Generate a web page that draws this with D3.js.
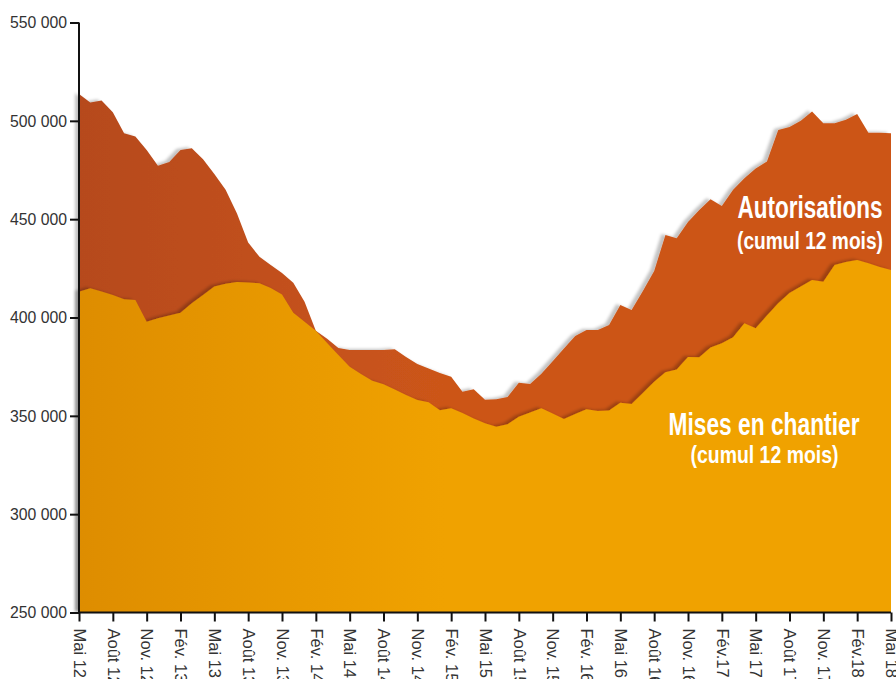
<!DOCTYPE html>
<html><head><meta charset="utf-8">
<script src="https://cdn.jsdelivr.net/npm/d3@7"></script>
<style>
html,body{margin:0;padding:0;background:#fff;}
svg{display:block;}
</style></head>
<body>
<svg id="chart" width="896" height="679"></svg>
<script>
const monthLabels = ["Mai 12","Août 12","Nov. 12","Fév. 13","Mai 13","Août 13","Nov. 13","Fév. 14","Mai 14","Août 14","Nov. 14","Fév. 15","Mai 15","Août 15","Nov. 15","Fév. 16","Mai 16","Août 16","Nov. 16","Fév.17","Mai 17","Août 17","Nov. 17","Fév.18","Mai 18"];
const yTicks = [250000,300000,350000,400000,450000,500000,550000];
// monthly values, May 2012 .. May 2018
const autorisations = [513700,509300,510300,504400,493700,492000,485200,477100,479100,485200,486100,480500,
 473000,464900,453000,438100,430900,426700,422600,417700,408000,393300,389200,384500,
 383500,383500,383500,383500,383800,379900,376300,374100,371800,369900,362300,363500,
 358200,358400,359600,366800,366200,371400,377800,384200,390600,393600,393600,396200,
 406400,403800,413500,423700,442000,440300,448600,454700,460100,456700,464900,470800,
 475800,479300,495400,496900,500000,504700,498800,498800,500500,503500,494000,493900,493700];
const misesEnChantier = [413100,414900,413200,411500,409300,408900,397900,399600,401000,402400,407200,411500,
 415700,417100,418100,417800,417400,415000,411700,402400,397900,393300,387000,380900,
 375000,371300,367900,366000,363400,360600,358000,356900,352900,353800,351400,348700,
 346200,344400,345700,349500,351700,353800,351200,348400,350900,353300,352400,352700,
 356700,356000,361600,367300,372100,373600,379900,379800,384800,386900,390000,397100,
 394500,401000,407200,412500,415800,419100,418200,426700,428200,429300,427600,425700,424200];
const seriesNames = ["Autorisations","Mises en chantier"];
const seriesSub = "(cumul 12 mois)";

const svg = d3.select("#chart");
const x = d3.scaleLinear().domain([0, autorisations.length-1]).range([79, 891]);
const y = d3.scaleLinear().domain([250000, 550000]).range([612.5, 22.5]);

const defs = svg.append("defs");
function grad(id, c0, c1){
  const g = defs.append("linearGradient").attr("id", id)
    .attr("gradientUnits","userSpaceOnUse").attr("x1",79).attr("x2",891).attr("y1",0).attr("y2",0);
  g.append("stop").attr("offset","0").attr("stop-color",c0);
  g.append("stop").attr("offset","0.45").attr("stop-color",c1);
  g.append("stop").attr("offset","1").attr("stop-color",c1);
}
grad("gA","#b64a1f","#cc5519");
grad("gM","#de8d03","#f0a200");
const f = defs.append("filter").attr("id","sh").attr("x","-5%").attr("y","-5%").attr("width","110%").attr("height","110%");
f.append("feDropShadow").attr("dx",-4).attr("dy",-1).attr("stdDeviation",1.5)
  .attr("flood-color","#000").attr("flood-opacity",0.24);

const area = d3.area().x((d,i)=>x(i)).y0(y(250000)).y1(d=>y(d));
svg.append("path").datum(autorisations).attr("d",area).attr("fill","url(#gA)").attr("filter","url(#sh)");
svg.append("path").datum(misesEnChantier).attr("d",area).attr("fill","url(#gM)").attr("filter","url(#sh)");

// Axes
const fmt = d3.formatLocale({decimal:",", thousands:" ", grouping:[3], currency:["","€"]}).format(",d");
const yAxis = svg.append("g").attr("transform","translate(79,0)")
  .call(d3.axisLeft(y).tickValues(yTicks).tickFormat(fmt).tickSize(9).tickPadding(3));
const xAxis = svg.append("g").attr("transform",`translate(0,${y(250000)})`)
  .call(d3.axisBottom(x).tickValues(d3.range(0, autorisations.length, 3))
    .tickFormat((d,i)=>monthLabels[i]).tickSize(9).tickPadding(4));
[yAxis,xAxis].forEach(a=>{
  a.select(".domain").attr("stroke","#111").attr("stroke-width",2);
  a.selectAll(".tick line").attr("stroke","#111").attr("stroke-width",2);
  a.selectAll("text").attr("fill","#333").style("font-family","'Liberation Sans Narrow','Liberation Sans',Arial,sans-serif").style("font-size","16.5px");
});
yAxis.select(".domain").attr("d",`M0,${y(250000)}V${y(550000)}`);
xAxis.select(".domain").attr("d",`M79,0H891`);
yAxis.selectAll("text").style("font-size","17px").attr("textLength",57).attr("lengthAdjust","spacingAndGlyphs").attr("x",-12);
xAxis.selectAll("text")
  .attr("transform","rotate(90)").attr("text-anchor","start")
  .attr("x",16).attr("y",0).attr("dy","0.35em");

// Labels
const lab = svg.append("g").attr("fill","#fff").attr("text-anchor","middle")
  .style("font-family","'Liberation Sans Narrow','Liberation Sans',Arial,sans-serif").style("font-weight","bold");
function label(cx, by, txt, size, w){
  lab.append("text").attr("x",cx).attr("y",by).text(txt).style("font-size",size+"px")
    .attr("textLength",w).attr("lengthAdjust","spacingAndGlyphs");
}
label(810, 218, seriesNames[0], 32, 145);
label(810, 249, seriesSub, 24, 146);
label(764, 435, seriesNames[1], 32, 191);
label(764.5, 463, seriesSub, 24, 148);
</script>
</body></html>
